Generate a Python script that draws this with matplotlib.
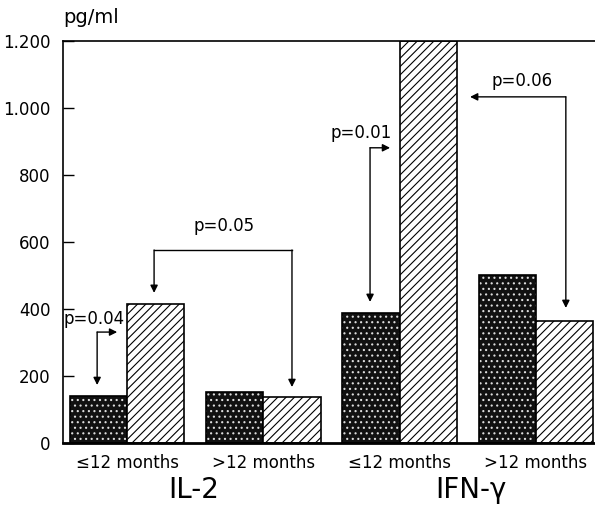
import matplotlib
matplotlib.use("Agg")
import matplotlib.pyplot as plt

plt.rcParams['font.family'] = ['DejaVu Sans']
plt.rcParams['hatch.linewidth'] = 0.8

groups = [0, 1, 2, 3]
group_labels = ["≤12 months", ">12 months", "≤12 months", ">12 months"]
cytokines = ["IL-2", "IFN-γ"]
cytokine_x = [0.49, 2.52]
dark_vals = [140, 152, 388, 500]
hatched_vals = [415, 137, 1200, 364]
yticks = [0, 200, 400, 600, 800, 1000, 1200]
ytick_labels = ["0", "200", "400", "600", "800", "1.000", "1.200"]

# bracket paths: (label, label position, alignment, path points; first and last point get arrowheads)
brackets = [
    ("p=0.04", (-0.47, 370), "left", [(-0.073, 331), (-0.22, 331), (-0.22, 173)]),
    ("p=0.05", (0.71, 648), "center", [(0.198, 448), (0.198, 576), (1.21, 576), (1.21, 167)]),
    ("p=0.01", (1.72, 925), "center", [(1.93, 881), (1.783, 881), (1.783, 421)]),
    ("p=0.06", (2.90, 1081), "center", [(2.517, 1033), (3.22, 1033), (3.22, 403)]),
]

w = 0.42

fig = plt.figure(figsize=(5.95, 5.05), dpi=100)
ax = fig.add_axes([0.106, 0.1228, 0.894, 0.7962])

# dark stippled bars: dark fill with white dot hatch, then a black outline on top
ax.bar([g - w / 2 for g in groups], dark_vals, width=w, color="#111111",
       edgecolor="#dddddd", hatch="...", linewidth=0)
ax.bar([g - w / 2 for g in groups], dark_vals, width=w, fill=False,
       edgecolor="black", linewidth=1.2)
ax.bar([g + w / 2 for g in groups], hatched_vals, width=w, color="white",
       edgecolor="black", hatch="////", linewidth=1.2)

ax.set_xlim(-0.47, 3.434)
ax.set_ylim(0, 1200)
ax.set_yticks(yticks)
ax.set_yticklabels(ytick_labels, fontsize=12)
ax.tick_params(axis="y", direction="in", length=8, width=1, pad=9)
ax.set_xticks(groups)
ax.set_xticklabels(group_labels, fontsize=12)
ax.tick_params(axis="x", length=0, pad=8)

for side in ["left", "top"]:
    ax.spines[side].set_linewidth(1.2)
ax.spines["bottom"].set_linewidth(2)
ax.spines["right"].set_visible(False)

ax.text(0.0, 1.035, "pg/ml", transform=ax.transAxes, fontsize=14,
        ha="left", va="bottom")

for x, name in zip(cytokine_x, cytokines):
    ax.text(x, -0.117, name, transform=ax.get_xaxis_transform(),
            fontsize=20, ha="center", va="center")

for label, pos, ha, pts in brackets:
    ax.text(pos[0], pos[1], label, fontsize=12, ha=ha, va="center")
    xs = [p[0] for p in pts[1:-1]]
    ys = [p[1] for p in pts[1:-1]]
    if len(xs) > 1:
        ax.plot(xs, ys, color="black", lw=1)
    for tip, base in [(pts[0], pts[1]), (pts[-1], pts[-2])]:
        ax.annotate("", xy=tip, xytext=base,
                    arrowprops=dict(arrowstyle="-|>", color="black", lw=1,
                                    shrinkA=0, shrinkB=0, mutation_scale=11))

fig.savefig("out.png", dpi=100)
